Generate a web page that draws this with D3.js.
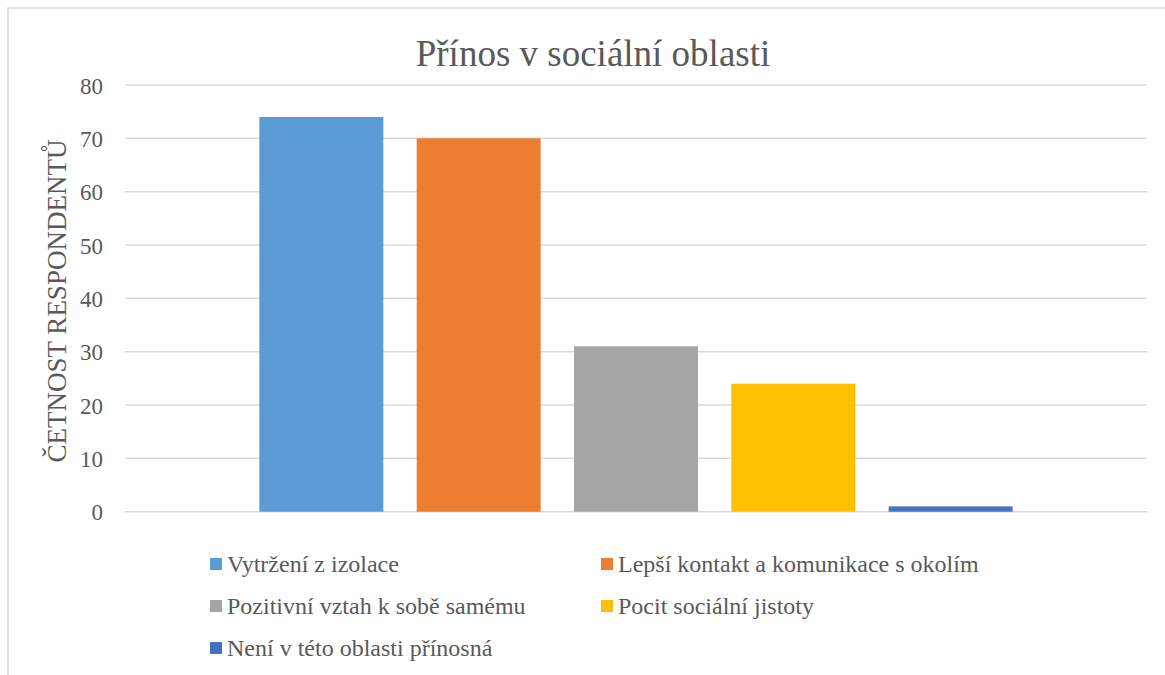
<!DOCTYPE html>
<html lang="cs">
<head>
<meta charset="utf-8">
<title>Přínos v sociální oblasti</title>
<script src="https://cdn.jsdelivr.net/npm/d3@7"></script>
<style>
  body { margin: 0; background: #fff; }
  svg text { font-family: "Liberation Serif", "Times New Roman", serif; fill: #595959; }
</style>
</head>
<body>
<svg id="chart" width="1165" height="675"></svg>
<script>
// data
var series = ["Vytržení z izolace", "Lepší kontakt a komunikace s okolím",
              "Pozitivní vztah k sobě samému", "Pocit sociální jistoty",
              "Není v této oblasti přínosná"];
var values = [74, 70, 31, 24, 1];
var colors = ["#5B9BD5", "#ED7D31", "#A5A5A5", "#FFC000", "#4472C4"];
var yTicks = [0, 10, 20, 30, 40, 50, 60, 70, 80];

var svg = d3.select("#chart");

// chart border (right and bottom edges fall outside the picture)
svg.append("rect")
  .attr("x", 8).attr("y", 8)
  .attr("width", 1200).attr("height", 700)
  .attr("fill", "none").attr("stroke", "#d9d9d9").attr("stroke-width", 1.5);

var plotLeft = 125, plotRight = 1147, plotTop = 85, plotBottom = 511.7;

var x = d3.scaleBand().domain(series).range([plotLeft, plotRight])
  .paddingInner(0.212).paddingOuter(0.854);
var y = d3.scaleLinear().domain([0, 80]).range([plotBottom, plotTop]);

/** gridlines */
svg.append("g").selectAll("line")
  .data(yTicks).enter().append("line")
  .attr("x1", plotLeft).attr("x2", plotRight)
  .attr("y1", function(d) { return y(d); })
  .attr("y2", function(d) { return y(d); })
  .attr("stroke", "#d9d9d9").attr("stroke-width", 1.5);

/** y axis labels */
var yAxis = svg.append("g")
  .attr("transform", "translate(" + (plotLeft - 22) + ",0)")
  .call(d3.axisLeft(y).tickValues(yTicks).tickSize(0).tickPadding(0));
yAxis.select(".domain").remove();
yAxis.selectAll("text")
  .attr("font-size", 23)
  .attr("dy", "0.35em")
  .style("font-family", "Liberation Serif, serif")
  .attr("fill", "#595959");

/** bars */
svg.append("g").selectAll("rect")
  .data(values).enter().append("rect")
  .attr("x", function(d, i) { return x(series[i]); })
  .attr("y", function(d) { return y(d); })
  .attr("width", x.bandwidth())
  .attr("height", function(d) { return plotBottom - y(d); })
  .attr("fill", function(d, i) { return colors[i]; });

// title
svg.append("text")
  .attr("x", 593).attr("y", 66)
  .attr("text-anchor", "middle")
  .attr("font-size", 37)
  .text("Přínos v sociální oblasti");

// axis title
svg.append("text")
  .attr("transform", "translate(66,301) rotate(-90)")
  .attr("text-anchor", "middle")
  .attr("font-size", 27)
  .text("ČETNOST RESPONDENTŮ");

/** legend, two columns */
var legend = svg.append("g").selectAll("g")
  .data(series).enter().append("g")
  .attr("transform", function(d, i) {
    var col = i % 2, row = Math.floor(i / 2);
    return "translate(" + (col === 0 ? 210 : 601) + "," + (564 + row * 42) + ")";
  });
legend.append("rect")
  .attr("x", 0).attr("y", -6).attr("width", 12).attr("height", 12)
  .attr("fill", function(d, i) { return colors[i]; });
legend.append("text")
  .attr("x", 17).attr("dy", "0.35em")
  .attr("font-size", 24)
  .text(function(d) { return d; });
</script>
</body>
</html>
